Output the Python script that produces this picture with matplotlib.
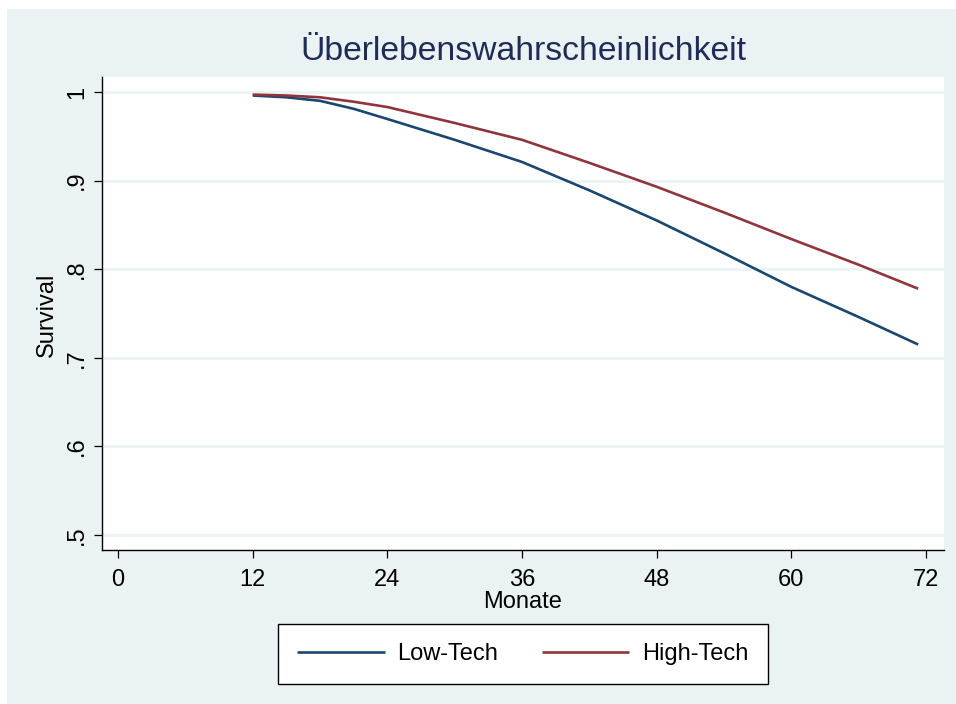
import matplotlib
matplotlib.use("Agg")
import matplotlib.pyplot as plt
from matplotlib.patches import Rectangle

# Survival estimates by month
months = [12, 15, 18, 21, 24, 30, 36, 42, 48, 54, 60, 66, 71.3]
low_tech = [0.996, 0.994, 0.990, 0.981, 0.9695, 0.946, 0.921, 0.889, 0.855, 0.818, 0.780, 0.746, 0.715]
high_tech = [0.997, 0.996, 0.994, 0.989, 0.983, 0.965, 0.946, 0.920, 0.893, 0.864, 0.834, 0.805, 0.778]

x_ticks = [0, 12, 24, 36, 48, 60, 72]
y_ticks = [0.5, 0.6, 0.7, 0.8, 0.9, 1.0]
y_tick_labels = [".5", ".6", ".7", ".8", ".9", "1"]

series_names = ["Low-Tech", "High-Tech"]
title_text = "Überlebenswahrscheinlichkeit"
x_label = "Monate"
y_label = "Survival"

BG = "#EAF2F3"
NAVY = "#1a476f"
MAROON = "#90353b"
TITLE_COL = "#1f2c56"

plt.rcParams["font.family"] = ["Liberation Sans", "DejaVu Sans"]

W, H = 956, 704
fig = plt.figure(figsize=(W / 100, H / 100), dpi=100, facecolor="white")

# graph region panel
fig.patches.append(Rectangle((7 / W, 0), 1 - 7 / W, 1 - 9 / H,
                             transform=fig.transFigure, facecolor=BG,
                             edgecolor="none", zorder=-10))

left, right, top, bottom = 102, 944, 77, 550
ax = fig.add_axes([left / W, 1 - bottom / H, (right - left) / W, (bottom - top) / H])
ax.set_zorder(1)
ax.set_facecolor("white")

ax.set_xlim(-1.43, 73.6)
ax.set_ylim(0.4831, 1.0169)

for y in y_ticks:
    ax.axhline(y, color=BG, lw=1.9, zorder=1)

l1, = ax.plot(months, low_tech, color=NAVY, lw=1.9, zorder=3, solid_capstyle="butt")
l2, = ax.plot(months, high_tech, color=MAROON, lw=1.9, zorder=3, solid_capstyle="butt")

ax.set_xticks(x_ticks)
ax.set_xticklabels([str(t) for t in x_ticks])
ax.set_yticks(y_ticks)
ax.set_yticklabels(y_tick_labels, rotation=90, va="center")

for s in ["top", "right"]:
    ax.spines[s].set_visible(False)
for s in ["left", "bottom"]:
    ax.spines[s].set_color("black")
    ax.spines[s].set_linewidth(1.0)

ax.tick_params(axis="both", direction="out", length=6, width=0.9, color="black",
               labelsize=17, labelcolor="black")
ax.tick_params(axis="x", pad=8)
ax.tick_params(axis="y", pad=4)

fig.text(523 / W, 1 - 52 / H, title_text, ha="center", va="center",
         fontsize=24.3, color=TITLE_COL)
fig.text(523 / W, 1 - 602 / H, x_label, ha="center", va="center",
         fontsize=17, color="black")
fig.text(47 / W, 1 - 315 / H, y_label, ha="center", va="center",
         fontsize=17, color="black", rotation=90)

leg = fig.legend([l1, l2], series_names, loc="center",
                 bbox_to_anchor=(523 / W, 1 - 654 / H), bbox_transform=fig.transFigure,
                 ncol=2, frameon=True, fancybox=False, shadow=False,
                 fontsize=17, handlelength=3.7, handletextpad=0.55,
                 columnspacing=1.85, borderpad=0.8)
frame = leg.get_frame()
frame.set_edgecolor("black")
frame.set_facecolor("white")
frame.set_linewidth(1.0)
frame.set_alpha(1)

fig.savefig("out.png", dpi=100, facecolor="white")
